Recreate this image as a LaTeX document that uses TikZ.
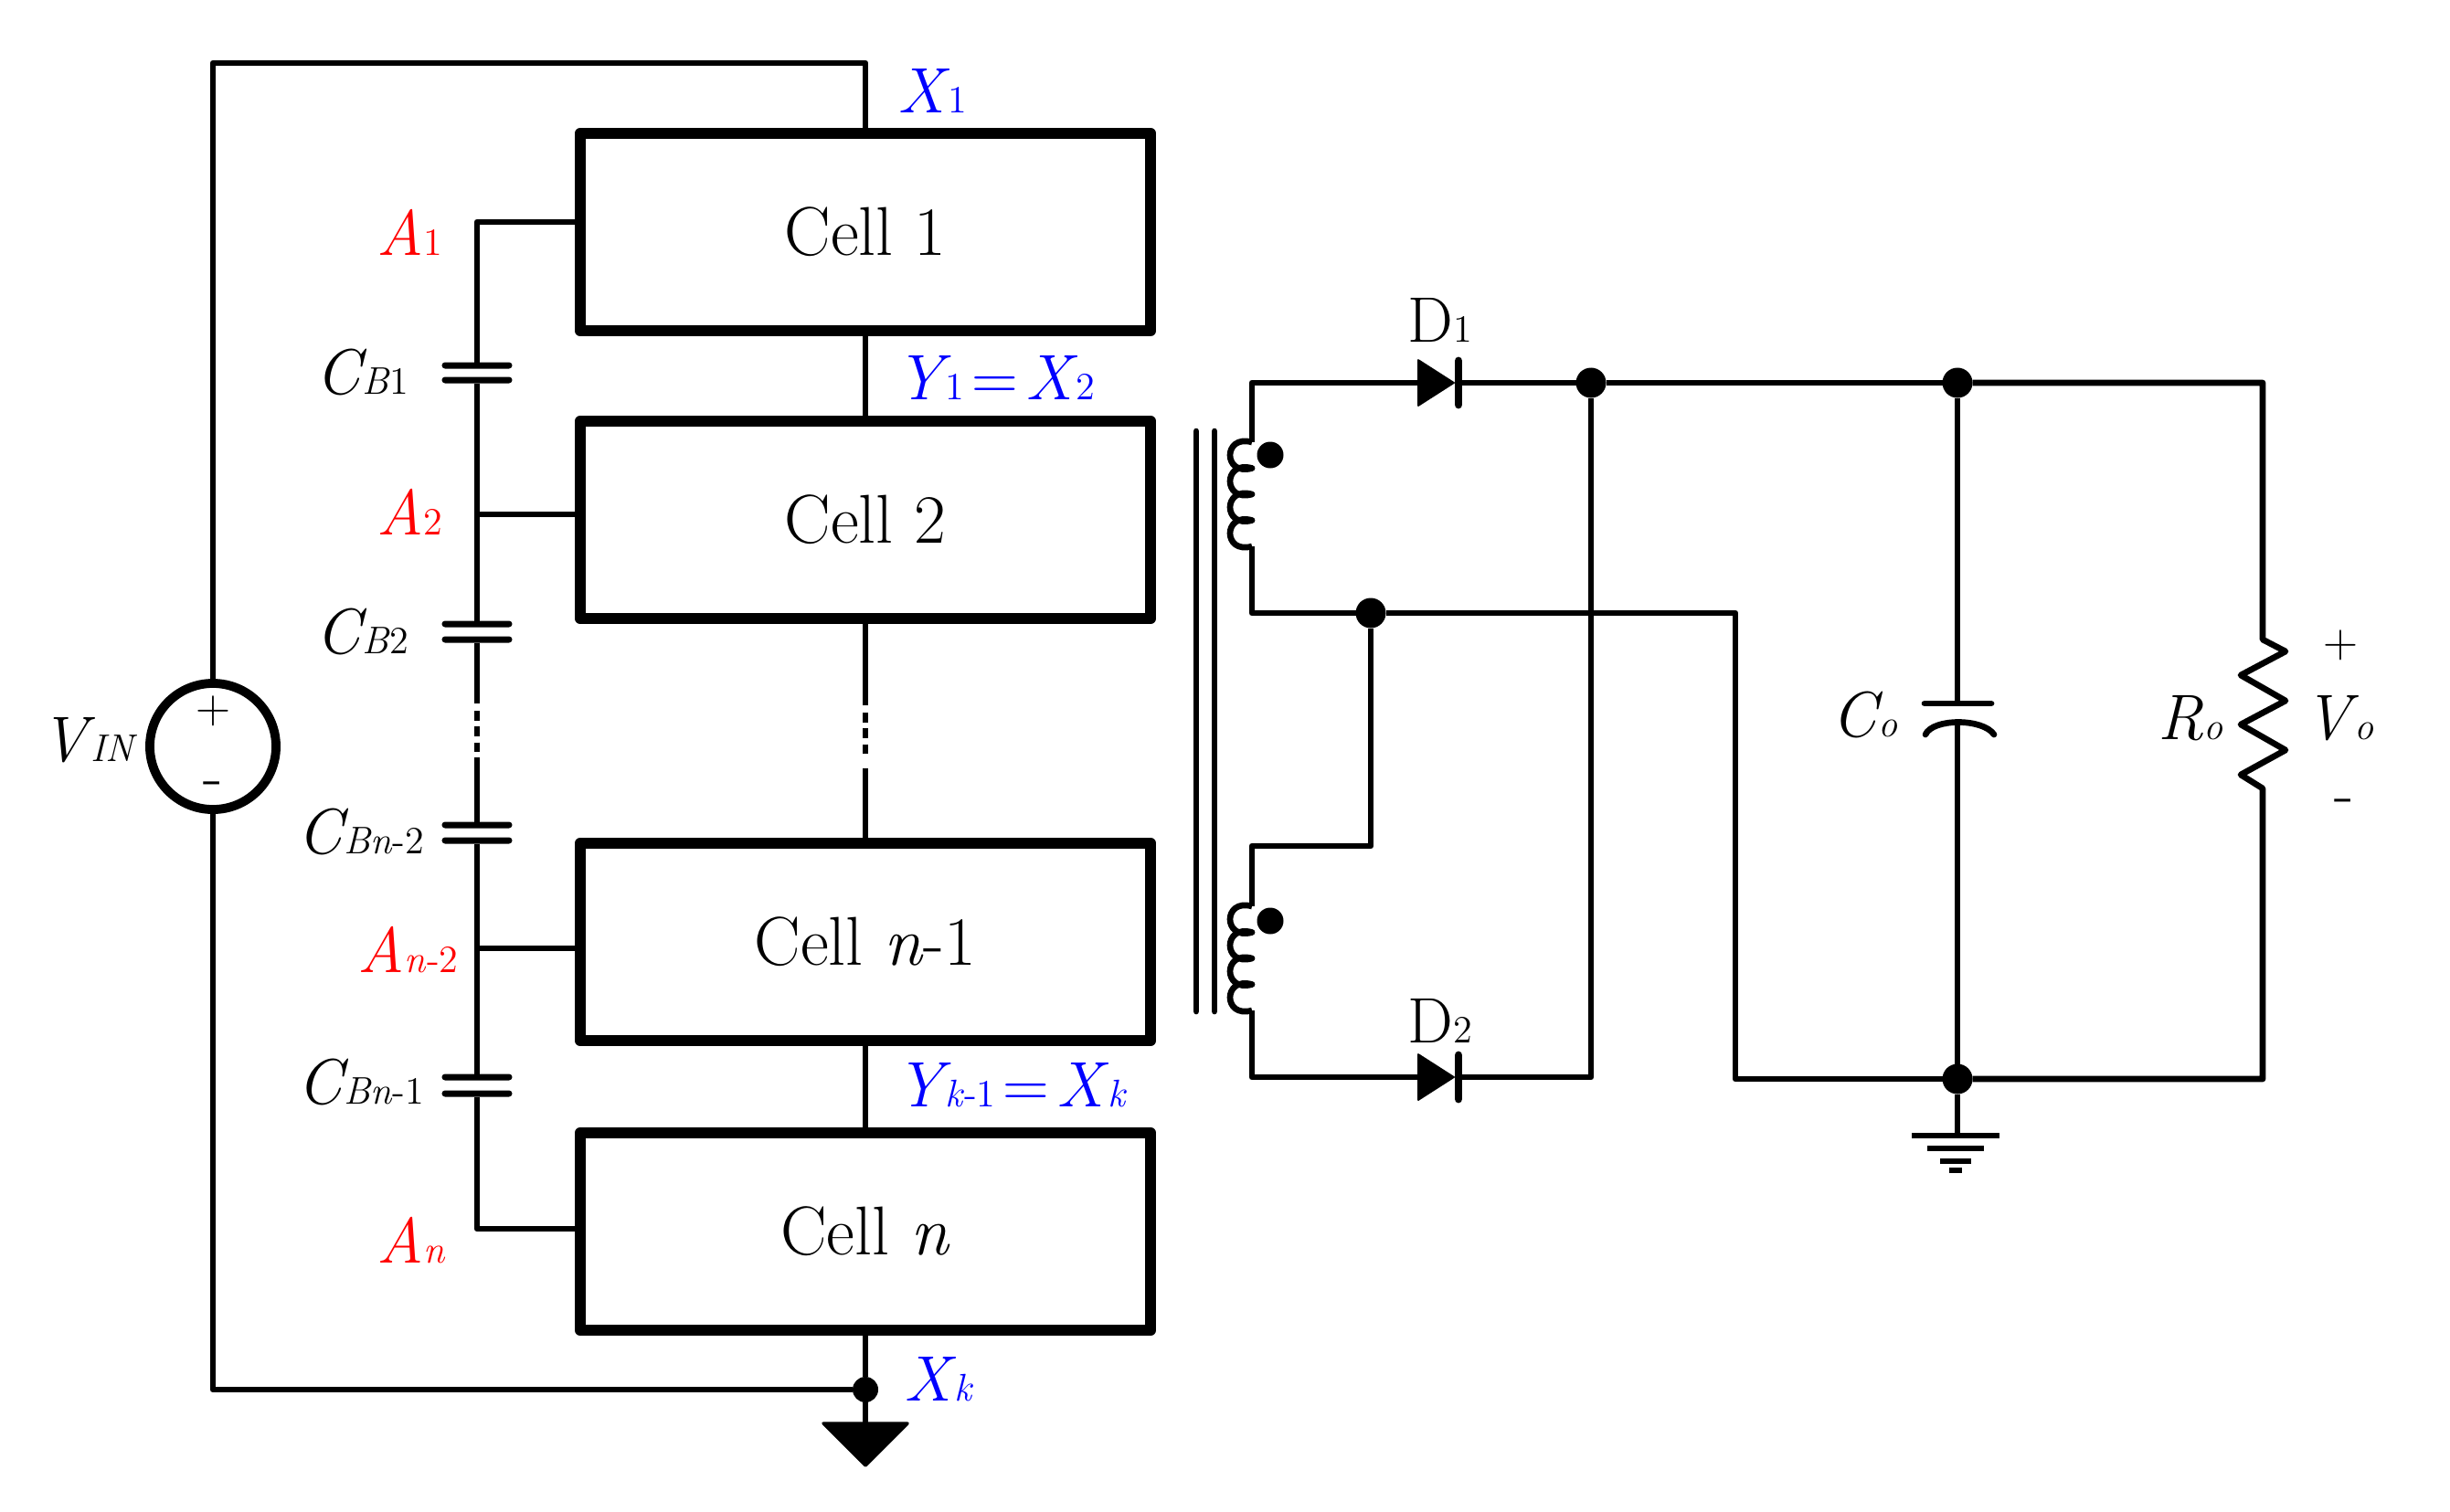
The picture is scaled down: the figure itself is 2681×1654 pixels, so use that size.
\documentclass[tikz,border=0pt]{standalone}
\usetikzlibrary{positioning}
\newcommand{\sm}[1]{{\fontsize{12}{14}\selectfont #1}}
\newcommand{\eqs}{\kern0.12em=\kern0.12em}
\tikzset{
	wire/.style={line width=1.9pt,line join=round},
	gapwire/.style={wire,dash pattern=on 0pt off 2.3pt on 3.1pt off 1.8pt on 3.1pt off 1.8pt on 3.1pt off 30pt},
	cell/.style={draw,line width=3.4pt,line join=round,minimum width=6.24cm,minimum height=2.16cm,inner sep=0pt,outer sep=0pt,font=\fontsize{21.5}{25}\selectfont},
	lab/.style={inner sep=0pt,anchor=base west,font=\fontsize{20}{24}\selectfont},
	plate/.style={fill=black,rounded corners=1pt,minimum width=0.77cm,minimum height=0.07cm,inner sep=0pt,outer sep=0pt},
	junction/.style={circle,fill=black,inner sep=0pt,minimum size=0.33cm,outer sep=0pt},
}
\begin{document}
\begin{tikzpicture}[x=0.01cm,y=-0.01cm]
	\useasboundingbox (0,0) rectangle (2681,1654);
	% cells
	\node[cell] (cell1) at (947,254) {Cell 1};
	\node[cell] (cell2) at (947,569) {Cell 2};
	\node[cell] (celln1) at (947,1031) {Cell \textit{n}-1};
	\node[cell] (celln) at (947,1348) {Cell \textit{n}};
	\node[draw,circle,line width=2.8pt,minimum size=1.38cm,inner sep=0pt,outer sep=0pt] (vin) at (233,817) {};
	\node[inner sep=0pt,font=\fontsize{15}{17}\selectfont] (vinp) at (233,778) {+};
	\node[lab,anchor=center] (vinm) at (233,864) {-};
	% outer loop
	\coordinate (xtop) at (947,69);
	\node[junction,minimum size=0.28cm] (xk) at (947,1521) {};
	\draw[wire] (vin.north) |- (xtop) -- (cell1.north);
	\draw[wire] (vin.south) |- (xk);
	\draw[wire] (cell1.south) -- (cell2.north);
	\draw[wire] (celln1.south) -- (celln.north);
	\coordinate (gtri) at (947,1557);
	\draw[wire] (celln.south) -- (xk) -- (gtri);
	\fill[line width=1pt,draw,line join=round] (901,1558) -- (993,1558) -- (947,1604) -- cycle;
	\coordinate (rs1) at (947,772);
	\coordinate (rs2) at (947,841);
	\draw[wire] (cell2.south) -- (rs1);
	\draw[gapwire] (rs1) -- (rs2);
	\draw[wire] (rs2) -- (celln1.north);
	% balancing capacitors
	\foreach \nm/\yt/\yb in {cb1/400/416,cb2/683/700,cbm/903/920,cbl/1179/1197}{
		\node[plate] (\nm t) at (522,\yt) {};
		\node[plate] (\nm b) at (522,\yb) {};
	}
	\coordinate (a1) at (522,243);
	\coordinate (a2) at (522,563);
	\coordinate (am) at (522,1038);
	\coordinate (an) at (522,1345);
	\coordinate (ls1) at (522,770);
	\coordinate (ls2) at (522,829);
	\draw[wire] (cell1.west |- a1) -- (a1) -- (cb1t);
	\draw[wire] (cb1b) -- (a2) -- (a2 -| cell2.west);
	\draw[wire] (a2) -- (cb2t);
	\draw[wire] (cb2b) -- (ls1);
	\draw[gapwire] (ls1) -- (ls2);
	\draw[wire] (ls2) -- (cbmt);
	\draw[wire] (cbmb) -- (am) -- (am -| celln1.west);
	\draw[wire] (am) -- (cblt);
	\draw[wire] (cblb) -- (an) -- (an -| celln.west);
	% transformer
	\foreach \nm/\xc in {core1/1309,core2/1329}{
		\coordinate (\nm a) at (\xc,472);
		\coordinate (\nm b) at (\xc,1107);
		\draw[wire,line cap=round] (\nm a) -- (\nm b);
	}
	\node[junction,minimum size=0.29cm] (s1) at (1390,498) {};
	\node[junction,minimum size=0.29cm] (s2) at (1390,1008) {};
	\coordinate (c1t) at (1370,484);
	\coordinate (c2t) at (1370,992);
	\draw[wire] (c1t) \foreach \k in {1,...,4}{ .. controls +(-32,-9) and +(-32,9) .. ++(0,28.5)} coordinate (c1b);
	\draw[wire] (c2t) \foreach \k in {1,...,4}{ .. controls +(-32,-9) and +(-32,9) .. ++(0,28.5)} coordinate (c2b);
	% diodes
	\foreach \nm/\yd in {d1/419,d2/1179}{
		\coordinate (\nm a) at (1552,\yd);
		\coordinate (\nm k) at (1596,\yd);
		\fill[line join=round,draw,line width=0.5pt] (1552,\yd-25) -- (1552,\yd+25) -- (1591,\yd) -- cycle;
		\draw[line width=2.5pt,line cap=round] (1596,\yd-24) -- (1596,\yd+24);
	}
	\node[junction] (dp) at (1741,419) {};
	\node[junction] (dm) at (1500,671) {};
	\node[junction] (dc) at (2142,419) {};
	\node[junction] (dg) at (2142,1181) {};
	\coordinate (c2k) at (1370,926);
	\coordinate (ret) at (1899,671);
	\draw[wire] (d1a) -| (c1t);
	\draw[wire] (d1k) -- (dp) -- (dc);
	\draw[wire] (c1b) |- (dm) -- (ret) |- (dg);
	\draw[wire] (dm) |- (c2k) -- (c2t);
	\draw[wire] (c2b) |- (d2a);
	\draw[wire] (d2k) -| (dp);
	% output capacitor
	\coordinate (cot) at (2142,770);
	\coordinate (cob) at (2142,792);
	\draw[wire] (dc) -- (cot);
	\draw[wire] (cob) -- (dg);
	\draw[line width=1.9pt,line cap=round] (2106,770) -- (2179,770);
	\draw[line width=1.9pt,line cap=round] (2107,804) .. controls (2115,786) and (2170,786) .. (2182,804);
	% load
	\coordinate (rt) at (2476,700);
	\coordinate (rb) at (2476,863);
	\draw[wire] (dc) -| (rt) -- (2501,713) -- (2452,739) -- (2501,767) -- (2452,793) -- (2501,821) -- (2452,848) -- (rb) |- (dg);
	% ground
	\coordinate (gnd) at (2142,1243);
	\draw[wire] (dg) -- (gnd);
	\foreach \nm/\yg/\bw in {g1/1243/0.95,g2/1257/0.62,g3/1271/0.34,g4/1281/0.14}{
		\node[plate,rounded corners=0pt,minimum width=\bw cm,minimum height=0.055cm] (\nm) at (2140,\yg) {};
	}
	% labels
	\node[lab,blue] (lx1) at (982,123) {\textit{X}\kern-0.5pt\sm{1}};
	\node[lab,blue] (ly1) at (980,437) {\textit{Y}\kern-2pt\sm{1}\eqs\textit{X}\kern-0.5pt\sm{2}};
	\node[lab,blue] (lyk) at (980,1211) {\textit{Y}\kern-2pt\sm{\textit{k}-1}\eqs\textit{X}\kern-0.5pt\sm{\textit{k}}};
	\node[lab,blue] (lxk) at (989,1533) {\textit{X}\kern-0.5pt\sm{\textit{k}}};
	\node[lab,red] (la1) at (412,279) {\textit{A}\sm{1}};
	\node[lab,red] (la2) at (412,585) {\textit{A}\sm{2}};
	\node[lab,red] (lam) at (391,1064) {\textit{A}\sm{\textit{n}-2}};
	\node[lab,red] (lan) at (412,1382) {\textit{A}\sm{\textit{n}}};
	\node[lab] (lc1) at (345,431) {\textit{C}\kern-1.5pt\sm{\textit{B}1}};
	\node[lab] (lc2) at (345,715) {\textit{C}\kern-1.5pt\sm{\textit{B}2}};
	\node[lab] (lcm) at (325,934) {\textit{C}\kern-1.5pt\sm{\textit{Bn}-2}};
	\node[lab] (lcl) at (325,1208) {\textit{C}\kern-1.5pt\sm{\textit{Bn}-1}};
	\node[lab] (lvin) at (44,833) {\textit{V}\kern-1.5pt\sm{\textit{IN}}};
	\node[lab] (ld1) at (1540,374) {D\sm{1}};
	\node[lab] (ld2) at (1540,1141) {D\sm{2}};
	\node[lab] (lco) at (2004,806) {\textit{C}\kern-1.5pt\sm{\textit{o}}};
	\node[lab] (lro) at (2361,809) {\textit{R}\sm{\textit{o}}};
	\node[lab] (lvo) at (2521,809) {\textit{V}\kern-1.5pt\sm{\textit{o}}};
	\node[inner sep=0pt,font=\fontsize{15}{17}\selectfont] (lvp) at (2561,706) {+};
	\node[lab,anchor=center] (lvm) at (2565,883) {-};
\end{tikzpicture}
\end{document}
